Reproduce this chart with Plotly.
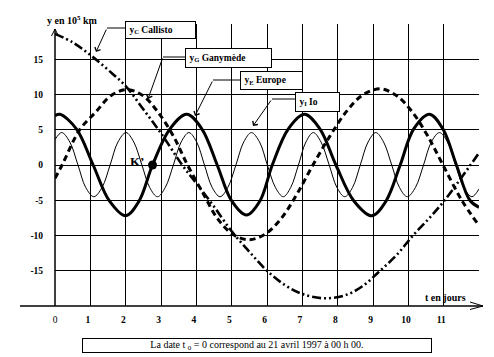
import plotly.graph_objects as go

# ---------------- data ----------------
# time in days, positions in 10^5 km
io_t = [0, 0.19, 0.42, 0.65, 0.87, 1.1, 1.33, 1.56, 1.78, 2.01, 2.23, 2.46, 2.68,
        2.9, 3.12, 3.35, 3.57, 3.79, 4.01, 4.23, 4.45, 4.67, 4.89, 5.12, 5.34,
        5.56, 5.79, 6.01, 6.24, 6.46, 6.67, 6.89, 7.1, 7.31, 7.53, 7.76, 7.98,
        8.2, 8.42, 8.64, 8.86, 9.08, 9.3, 9.53, 9.75, 9.97, 10.2, 10.43, 10.65,
        10.88, 11.11, 11.34, 11.57, 11.8, 12.0]
io_y = [3.6,
        4.6, 3.25, 0, -3.2, -4.5, -3.2, 0, 3.25,
        4.6, 3.25, 0, -3.2, -4.5, -3.2, 0, 3.25,
        4.6, 3.25, 0, -3.2, -4.5, -3.2, 0, 3.25,
        4.6, 3.25, 0, -3.2, -4.5, -3.2, 0, 3.25,
        4.6, 3.25, 0, -3.2, -4.5, -3.2, 0, 3.25,
        4.6, 3.25, 0, -3.2, -4.5, -3.2, 0, 3.25,
        4.6, 3.25, 0, -3.2, -4.5, -3.4]

europe_t = [0, 0.14, 0.61, 1.08, 1.54, 2.0, 2.38, 2.76, 3.25, 3.73, 4.16, 4.59, 5.0,
            5.42, 5.8, 6.15, 6.6, 7.06, 7.5, 7.95, 8.46, 8.97, 9.37, 9.77, 10.15,
            10.6, 10.98, 11.36, 11.74, 12.0]
europe_y = [7.0, 7.2, 5.1, 0, -5.1, -7.2, -5.1, 0, 5.1, 7.2, 5.1, 0, -5.1,
            -7.1, -5.1, 0, 5.1, 7.2, 5.1, 0, -5.1, -7.2, -5.1, 0, 5.1,
            7.2, 5.1, 0, -5.0, -6.0]

ganymede_t = [0, 0.2, 0.7, 1.15, 1.6, 2.05, 2.5, 2.9, 3.35, 3.75, 4.2, 4.6, 5.05,
              5.5, 5.95, 6.4, 6.85, 7.3, 7.78, 8.25, 8.7, 9.2, 9.65, 10.1, 10.55,
              10.98, 11.5, 12.0]
ganymede_y = [-1.9, 0, 5.0, 7.5, 9.9, 10.7, 9.8, 7.6, 4.1, 0, -4.1, -7.6, -9.9,
              -10.6, -9.8, -7.6, -4.1, 0, 4.1, 7.6, 9.9, 10.8, 9.9, 7.6, 4.1,
              0, -4.9, -8.6]

callisto_t = [0, 0.5, 1.0, 1.5, 2.0, 2.5, 3.0, 3.6, 4.0, 4.5, 5.0, 5.5, 6.0, 6.5,
              7.0, 7.6, 8.2, 8.7, 9.2, 9.7, 10.13, 10.6, 11.03, 11.5, 12.0]
callisto_y = [18.6, 17.4, 15.6, 13.5, 11.2, 7.9, 4.5, 0, -2.6, -5.9, -9.4, -12.3,
              -15.0, -17.0, -18.3, -18.9, -18.5, -17.2, -15.0, -12.6, -10.0, -7.5,
              -5.0, -1.8, 1.7]

k_t = [2.76]
k_y = [0.0]

x_ticks = list(range(12))
x_ticktext = [str(v) for v in x_ticks]
y_ticks = [-15, -10, -5, 0, 5, 10, 15]
y_ticktext = [str(v) for v in y_ticks]

# ---------------- layout helpers ----------------
W, H = 494, 357
L, R, T, B = 55, 15, 24, 51
PW, PH = W - L - R, H - T - B
SERIF = "Liberation Serif, Times New Roman, serif"


def fx(px):
    return (px - L) / PW


def fy(py):
    return (H - B - py) / PH


fig = go.Figure()

fig.add_trace(go.Scatter(x=io_t, y=io_y, mode="lines", name="Io",
                         line=dict(color="black", width=1, shape="spline")))
fig.add_trace(go.Scatter(x=europe_t, y=europe_y, mode="lines", name="Europe",
                         line=dict(color="black", width=3, shape="spline")))
fig.add_trace(go.Scatter(x=ganymede_t, y=ganymede_y, mode="lines", name="Ganymède",
                         line=dict(color="black", width=3, shape="spline",
                                   dash="6px,4px")))
fig.add_trace(go.Scatter(x=callisto_t, y=callisto_y, mode="lines", name="Callisto",
                         line=dict(color="black", width=2.6, shape="spline",
                                   dash="9px,3px,2px,3px,2px,3px")))
fig.add_trace(go.Scatter(x=k_t, y=k_y, mode="markers", name="K'",
                         marker=dict(color="black", size=9)))

shapes = []


def seg(x0, y0, x1, y1, w=1.5):
    shapes.append(dict(type="line", xref="paper", yref="paper",
                       x0=fx(x0), y0=fy(y0), x1=fx(x1), y1=fy(y1),
                       line=dict(color="black", width=w)))


# x axis with arrow
seg(20, 306, 483, 306, 1.5)
seg(470, 302, 483, 306, 1)
seg(470, 309.5, 483, 306, 1)
# y axis with arrow
seg(55, 306, 55, 29, 1.5)
seg(51.5, 36, 55, 29, 1)
seg(58.5, 36, 55, 29, 1)

annotations = []

# label boxes: (text, left, top, right, bottom, elbow, tip)
boxes = [
    ("y<sub>C</sub> Callisto", 125, 21, 196, 39, (107, 28), (96, 52)),
    ("y<sub>G</sub> Ganymède", 185, 48, 272, 68, (163, 57), (148, 99)),
    ("y<sub>E</sub> Europe", 240, 71, 303, 90, (213, 80), (195, 116)),
    ("y<sub>I</sub> Io", 295, 92, 340, 112, (272, 99), (253, 126)),
]
for text, x0, y0, x1, y1, elbow, tip in boxes:
    seg(elbow[0], elbow[1], x0, elbow[1], 1)
    annotations.append(dict(
        xref="paper", yref="paper", x=fx(tip[0]), y=fy(tip[1]), text="",
        showarrow=True, arrowhead=4, arrowsize=1.2, arrowwidth=1,
        arrowcolor="black", ax=elbow[0] - tip[0], ay=elbow[1] - tip[1],
        axref="pixel", ayref="pixel"))
    annotations.append(dict(
        xref="paper", yref="paper", x=fx((x0 + x1) / 2), y=fy((y0 + y1) / 2),
        xanchor="center", yanchor="middle", showarrow=False,
        text="\u00a0<b>" + text + "</b>", align="left",
        width=x1 - x0 - 4, height=y1 - y0 - 4, borderpad=1,
        bordercolor="black", borderwidth=1, bgcolor="white",
        font=dict(family=SERIF, size=9.5, color="black")))

annotations.append(dict(
    xref="paper", yref="paper", x=fx(45), y=fy(20), xanchor="left",
    yanchor="middle", showarrow=False,
    text="<b>y en 10<sup>5</sup> km</b>",
    font=dict(family=SERIF, size=10, color="black")))
annotations.append(dict(
    xref="paper", yref="paper", x=fx(445), y=fy(297), xanchor="center",
    yanchor="middle", showarrow=False, text="<b>t en jours</b>",
    font=dict(family=SERIF, size=10, color="black")))
annotations.append(dict(
    xref="paper", yref="paper", x=fx(137), y=fy(161), xanchor="center",
    yanchor="middle", showarrow=False, text="<b>K’</b>",
    font=dict(family=SERIF, size=13, color="black")))
annotations.append(dict(
    xref="paper", yref="paper", x=fx(257), y=fy(345.5), xanchor="center",
    yanchor="middle", showarrow=False,
    text="La date t <sub>0</sub> = 0 correspond au 21 avril 1997 à 00 h 00.",
    width=346, height=11, borderpad=1, bordercolor="black", borderwidth=1,
    bgcolor="white", font=dict(family=SERIF, size=10, color="black")))

fig.update_layout(
    width=W, height=H, margin=dict(l=L, r=R, t=T, b=B),
    paper_bgcolor="white", plot_bgcolor="white", showlegend=False,
    shapes=shapes, annotations=annotations,
    font=dict(family=SERIF, color="black"),
    xaxis=dict(range=[0, 12], tickvals=x_ticks,
               ticktext=[x_ticktext[0]] + ["<b>" + s + "</b>\u00a0\u00a0" for s in x_ticktext[1:]],
               showgrid=True, gridcolor="black", gridwidth=1.3, zeroline=False,
               showline=False, ticks="outside", ticklen=5,
               tickcolor="rgba(0,0,0,0)", tickfont=dict(family=SERIF, size=9.5, color="black"),
               fixedrange=True),
    yaxis=dict(range=[-20, 20], tickvals=y_ticks,
               ticktext=["<b>" + s + "</b>" for s in y_ticktext],
               showgrid=True, gridcolor="black", gridwidth=1.3, zeroline=False,
               showline=False, ticks="outside", ticklen=9,
               tickcolor="rgba(0,0,0,0)", tickfont=dict(family=SERIF, size=9.5, color="black"),
               fixedrange=True),
)

fig.write_html("out.html", config={"displayModeBar": False},
               post_script="document.body.style.margin='0px';")
